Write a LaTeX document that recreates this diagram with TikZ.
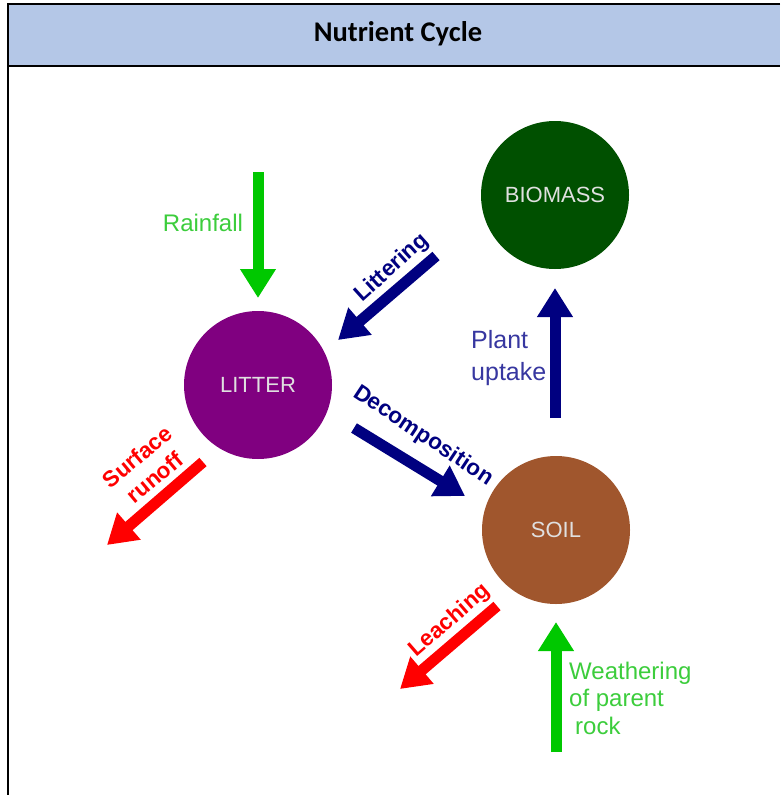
\documentclass[tikz,border=0pt]{standalone}
\usepackage{fontspec}
\setmainfont{Liberation Sans}
\newfontfamily\titlefont{Carlito}
\usetikzlibrary{arrows.meta}
\definecolor{hdr}{RGB}{180,199,231}
\definecolor{biomasscol}{RGB}{0,80,0}
\definecolor{littercol}{RGB}{128,0,128}
\definecolor{soilcol}{RGB}{160,86,45}
\definecolor{arrgreen}{RGB}{0,200,0}
\definecolor{txtgreen}{RGB}{60,205,60}
\definecolor{navyc}{RGB}{0,0,128}
\definecolor{navytxt}{RGB}{55,55,160}
\definecolor{redc}{RGB}{255,0,0}
\begin{document}
\begin{tikzpicture}[x=1pt,y=-1pt,
  blob/.style={circle,minimum size=148pt,inner sep=0pt,text=white!88!black,font=\fontsize{22}{26}\selectfont},
  fat/.style={line width=11pt,-{Triangle[width=34pt,length=29pt]}},
  plainlbl/.style={inner sep=0pt,font=\fontsize{24}{29}\selectfont},
  boldlbl/.style={inner sep=0pt,font=\bfseries\fontsize{22.5}{27}\selectfont}]
\useasboundingbox (0,0) rectangle (780,795);
\fill[white] (0,0) rectangle (780,795);
\fill[hdr] (8,4) rectangle (780,66);
\draw[line width=2pt] (780,4) -- (8,4) -- (8,795);
\draw[line width=2pt] (8,66) -- (780,66);
\node[font=\titlefont\bfseries\fontsize{28.5}{32}\selectfont] (title) at (398,34) {Nutrient Cycle};

% circles
\node[blob,fill=biomasscol] (biomass) at (555,195) {BIOMASS};
\node[blob,fill=littercol] (litter) at (258,385) {LITTER};
\node[blob,fill=soilcol] (soil) at (556,530) {SOIL};

% coordinates
\coordinate (rainA) at (258,172); \coordinate (rainB) at (258,298);
\coordinate (litA) at (436,256); \coordinate (litB) at (338,340);
\coordinate (decA) at (354,428); \coordinate (decB) at (465,496);
\coordinate (upA) at (555,418); \coordinate (upB) at (555,288);
\coordinate (runA) at (203,462); \coordinate (runB) at (107,545);
\coordinate (leaA) at (497,606); \coordinate (leaB) at (400,689);
\coordinate (weaA) at (556,752); \coordinate (weaB) at (556,622);

% arrows
\draw[fat,arrgreen] (rainA) -- (rainB);
\draw[fat,navyc] (litA) -- (litB);
\draw[fat,navyc] (decA) -- (decB);
\draw[fat,navyc] (upA) -- (upB);
\draw[fat,redc] (runA) -- (runB);
\draw[fat,redc] (leaA) -- (leaB);
\draw[fat,arrgreen] (weaA) -- (weaB);

% labels
\node[plainlbl,text=txtgreen] (lrain) at (203,223) {Rainfall};
\node[boldlbl,text=navyc,rotate=42] (llit) at (392,268) {Littering};
\node[boldlbl,text=navyc,rotate=-33.5] (ldec) at (423,436) {Decomposition};
\node[plainlbl,text=navytxt,anchor=west,align=left,font=\fontsize{25}{32}\selectfont] (lup) at (471,358) {Plant\\uptake};
\node[boldlbl,text=redc,rotate=40,align=center] (lrun) at (146,467) {Surface\\runoff};
\node[boldlbl,text=redc,rotate=41] (llea) at (450,621) {Leaching};
\node[plainlbl,text=txtgreen,anchor=west,align=left,font=\fontsize{24}{27.5}\selectfont] (lwea) at (569,698) {Weathering\\of parent\\\hspace*{6pt}rock};
\end{tikzpicture}
\end{document}
